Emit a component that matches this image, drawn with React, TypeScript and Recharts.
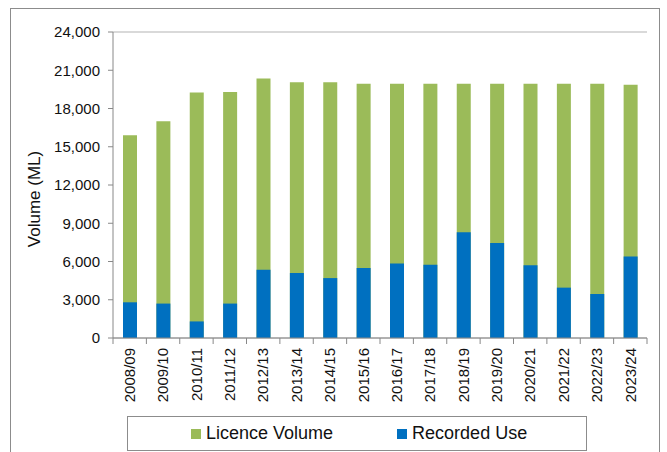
import { BarChart, Bar, XAxis, YAxis, CartesianGrid, Legend } from "recharts";

const YEARS = [
  "2008/09", "2009/10", "2010/11", "2011/12", "2012/13", "2013/14", "2014/15", "2015/16",
  "2016/17", "2017/18", "2018/19", "2019/20", "2020/21", "2021/22", "2022/23", "2023/24",
];
const LICENCE_VOLUME = [
  15900, 17000, 19250, 19300, 20350, 20050, 20050, 19950,
  19950, 19950, 19950, 19950, 19950, 19950, 19950, 19870,
];
const RECORDED_USE = [
  2800, 2700, 1300, 2700, 5350, 5100, 4700, 5500,
  5850, 5750, 8300, 7450, 5700, 3950, 3450, 6400,
];
const Y_TICKS = [0, 3000, 6000, 9000, 12000, 15000, 18000, 21000, 24000];

const GREEN = "#9BBB59";
const BLUE = "#0070C0";
const FONT = "'Liberation Sans', Arial, sans-serif";

const W = 648;
const H = 443;
const M = { top: 23, right: 12, left: 0, bottom: 1 };
const Y_W = 102;
const BAR_W = 14;
const BAND = (W - M.left - M.right - Y_W) / YEARS.length;

const data = YEARS.map((year, i) => ({
  year,
  licence: LICENCE_VOLUME[i],
  recorded: RECORDED_USE[i],
}));

const YearTick = (props: any) => {
  const { x, y, payload, index } = props;
  return (
    <g transform={`translate(${x},${y})`}>
      <line x1={-BAND / 2} y1={0} x2={-BAND / 2} y2={6} stroke="#888" />
      {index === YEARS.length - 1 && (
        <line x1={BAND / 2} y1={0} x2={BAND / 2} y2={6} stroke="#888" />
      )}
      <text
        transform="rotate(-90)"
        x={-10}
        y={0}
        dy="0.35em"
        textAnchor="end"
        fontSize={15}
        fill="#111"
        fontFamily={FONT}
      >
        {payload.value}
      </text>
    </g>
  );
};

const LegendBox = (props: any) => {
  const items = props.payload || [];
  return (
    <div
      style={{
        boxSizing: "border-box",
        width: 460,
        height: 35,
        border: "1px solid #8c8c8c",
        display: "flex",
        alignItems: "center",
        paddingLeft: 63,
        fontFamily: FONT,
        fontSize: 18,
        color: "#111",
      }}
    >
      {items.map((it: any, i: number) => (
        <div key={i} style={{ display: "flex", alignItems: "center", marginRight: i === 0 ? 64 : 0 }}>
          <span style={{ width: 10, height: 10, background: it.color, display: "inline-block", marginRight: 5 }} />
          <span>{it.value}</span>
        </div>
      ))}
    </div>
  );
};

export default function App() {
  return (
    <div
      style={{
        position: "absolute",
        left: 10,
        top: 8,
        width: W,
        height: 460,
        border: "1px solid #8c8c8c",
        background: "#fff",
      }}
    >
      <BarChart width={W} height={H} data={data} margin={M} barGap={-BAR_W} barSize={BAR_W}>
        <CartesianGrid vertical={false} stroke="#b3b3b3" />
        <XAxis
          xAxisId="b"
          dataKey="year"
          height={78}
          interval={0}
          tickLine={false}
          tickSize={0}
          tickMargin={0}
          tick={<YearTick />}
          axisLine={{ stroke: "#888" }}
        />
        <XAxis xAxisId="t" orientation="top" dataKey="year" height={0} tick={false} tickLine={false} axisLine={{ stroke: "#888" }} />
        <YAxis
          yAxisId="l"
          width={Y_W}
          domain={[0, 24000]}
          ticks={Y_TICKS}
          interval={0}
          tickSize={5}
          tickMargin={8}
          tickLine={{ stroke: "#888" }}
          axisLine={{ stroke: "#888" }}
          tickFormatter={(v: number) => v.toLocaleString("en-US")}
          tick={{ fontSize: 15, fill: "#111", fontFamily: FONT }}
          label={(p: any) => {
            const vb = p.viewBox;
            const cy = vb.y + vb.height / 2 + 14;
            return (
              <text
                x={23}
                y={cy}
                transform={`rotate(-90, 23, ${cy})`}
                textAnchor="middle"
                dominantBaseline="central"
                fontSize={17}
                fill="#111"
                fontFamily={FONT}
              >
                Volume (ML)
              </text>
            );
          }}
        />
        <YAxis yAxisId="r" orientation="right" width={0} domain={[0, 24000]} tick={false} tickLine={false} axisLine={{ stroke: "#888" }} />
        <Legend
          verticalAlign="bottom"
          content={<LegendBox />}
          width={460}
          height={35}
          wrapperStyle={{ left: 116, bottom: 1, width: 460 }}
        />
        <Bar xAxisId="b" yAxisId="l" dataKey="licence" name="Licence Volume" fill={GREEN} isAnimationActive={false} />
        <Bar xAxisId="b" yAxisId="l" dataKey="recorded" name="Recorded Use" fill={BLUE} isAnimationActive={false} />
      </BarChart>
    </div>
  );
}
